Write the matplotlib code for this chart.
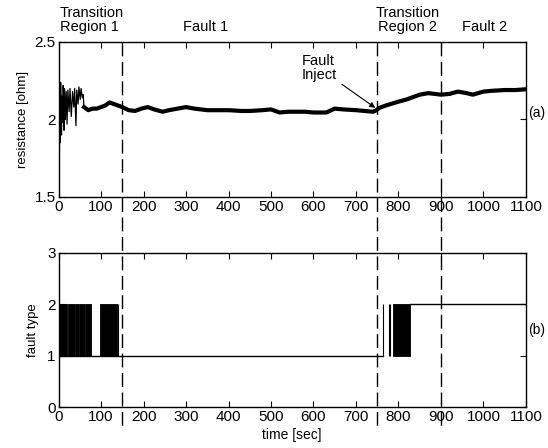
import numpy as np
import matplotlib
matplotlib.use("Agg")
import matplotlib.pyplot as plt
from matplotlib.lines import Line2D
from matplotlib import transforms

plt.rcParams['font.family'] = ['Liberation Sans Narrow', 'Liberation Sans', 'DejaVu Sans']

# resistance estimate (sec, ohm)
# start-up transient, 0..60 s
t_start = [0, 1, 2, 3, 4, 5, 7, 8, 10, 11, 13, 14, 16, 18, 20, 22, 25, 27, 30,
           33, 36, 38, 41, 43, 46, 48, 51, 53, 56, 58, 60]
r_start = [1.72, 2.25, 1.75, 2.20, 1.85, 2.24, 1.90, 2.15, 1.98, 2.22, 1.93,
           2.20, 2.00, 2.18, 1.97, 2.19, 2.05, 2.20, 2.02, 2.18, 2.08, 2.20,
           1.96, 2.19, 2.10, 2.21, 2.13, 2.20, 2.14, 2.16, 2.08]
# settled part, 60..1100 s
t_res = [60, 65, 70, 80, 90, 100, 110, 120, 130, 140, 150, 165, 180, 195, 210,
         225, 245, 260, 280, 300, 320, 350, 380, 400, 430, 450, 480, 500, 520,
         540, 560, 580, 600, 630, 650, 670, 700, 720, 740, 748, 755, 770, 800,
         820, 850, 870, 900, 920, 940, 960, 975, 1000, 1020, 1050, 1075, 1100]
r_res = [2.08, 2.07, 2.06, 2.07, 2.07, 2.08, 2.09, 2.11, 2.10, 2.09, 2.08,
         2.06, 2.055, 2.07, 2.08, 2.065, 2.05, 2.06, 2.07, 2.08, 2.07, 2.06,
         2.06, 2.06, 2.055, 2.055, 2.06, 2.065, 2.045, 2.05, 2.05, 2.05, 2.045,
         2.045, 2.07, 2.065, 2.06, 2.055, 2.05, 2.06, 2.075, 2.09, 2.115, 2.13,
         2.16, 2.17, 2.16, 2.165, 2.18, 2.17, 2.16, 2.18, 2.185, 2.19, 2.19,
         2.195]

# fault type: base step levels and the bursts of switching between 1 and 2
t_fault_1 = [0, 764]
t_fault_2 = [826, 1100]
burst_spans = [(0, 17), (18, 21), (22, 36), (39, 49), (51, 63), (65, 76),
               (97, 138), (786, 826)]
spike_times = [2, 37, 44, 50, 64, 140, 764, 777, 781]

boundaries = [150, 750, 900]

fig = plt.figure(figsize=(5.48, 4.48), dpi=100)
ax1 = fig.add_axes([0.1068, 0.5603, 0.853, 0.346])
ax2 = fig.add_axes([0.1068, 0.0915, 0.853, 0.3438])

ax1.plot(t_start, r_start, color='k', lw=0.9)
ax1.plot(t_res, r_res, color='k', lw=3.0, solid_joinstyle='round')
ax1.set_xlim(0, 1100)
ax1.set_ylim(1.5, 2.5)
ax1.set_yticks([1.5, 2, 2.5])
ax1.set_yticklabels(['1.5', '2', '2.5'])
ax1.set_ylabel('resistance [ohm]', fontsize=9.5, labelpad=4)

ax2.plot(t_fault_1, [1, 1], color='k', lw=1)
ax2.plot(t_fault_2, [2, 2], color='k', lw=1)
for a, b in burst_spans:
    ax2.fill_between([a, b], 1, 2, color='k', lw=0.6, edgecolor='k')
ax2.vlines(spike_times, 1, 2, color='k', lw=0.8)
ax2.set_xlim(0, 1100)
ax2.set_ylim(0, 3)
ax2.set_yticks([0, 1, 2, 3])
ax2.set_ylabel('fault type', fontsize=9.5, labelpad=6)
ax2.set_xlabel('time [sec]', fontsize=10, labelpad=3)

for ax in (ax1, ax2):
    ax.set_xticks(range(0, 1101, 100))
    ax.tick_params(direction='in', top=True, right=True, length=4,
                   labelsize=11, pad=2)
    for s in ax.spines.values():
        s.set_linewidth(1.0)

# dashed region boundaries running through both panels
tr = transforms.blended_transform_factory(ax1.transData, fig.transFigure)
for b in boundaries:
    fig.add_artist(Line2D([b, b], [1 - 42 / 448, 1 - 430 / 448], transform=tr,
                          color='k', lw=1.0, ls=(0, (10, 4))))

fig.text(0.109, 0.955, 'Transition\nRegion 1', fontsize=10.5, ha='left',
         va='center', linespacing=1.0)
fig.text(0.375, 0.94, 'Fault 1', fontsize=10.5, ha='center', va='center')
fig.text(0.744, 0.955, 'Transition\nRegion 2', fontsize=10.5, ha='center',
         va='center', linespacing=1.0)
fig.text(0.885, 0.94, 'Fault 2', fontsize=10.5, ha='center', va='center')
fig.text(0.963, 1 - 113 / 448, '(a)', fontsize=10, ha='left', va='center')
fig.text(0.963, 1 - 330 / 448, '(b)', fontsize=10, ha='left', va='center')

ax1.annotate('Fault\nInject', xy=(748, 2.07), xytext=(572, 2.33),
             fontsize=10.5, ha='left', va='center', linespacing=1.0,
             arrowprops=dict(arrowstyle='-|>', color='k', lw=0.8,
                             mutation_scale=8, shrinkA=2, shrinkB=1))

fig.savefig('out.png', dpi=100)
